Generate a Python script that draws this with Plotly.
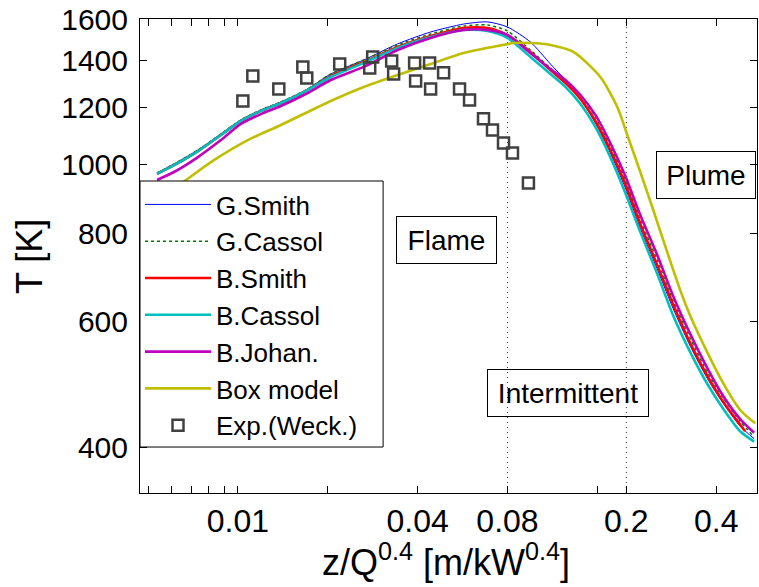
import math
import plotly.graph_objects as go

# Scaled height z/Q^0.4 [m/kW^0.4] sampled along the centreline profiles
z_cfd = [0.00536, 0.0062, 0.00735, 0.00877, 0.01023, 0.01194, 0.01393, 0.01688,
         0.02047, 0.02639, 0.03428, 0.04421, 0.0570, 0.06858, 0.07998, 0.09548,
         0.1114, 0.1250, 0.1404, 0.1575, 0.1768, 0.1985, 0.2227, 0.2539,
         0.2872, 0.3274, 0.3732, 0.4221, 0.4813, 0.5360]
z_bsmith = z_cfd[:-1] + [0.5001]

# Centreline temperature [K]
t_gsmith = [972, 1004, 1047, 1103, 1154, 1192, 1223, 1271, 1339, 1401, 1476, 1534,
            1574, 1585, 1559, 1485, 1383, 1313, 1235, 1143, 1037, 926, 813, 712,
            626, 555, 500, 461, 428, 411]
t_gcassol = [972, 1004, 1047, 1103, 1154, 1192, 1223, 1271, 1339, 1401, 1471, 1524,
             1564, 1569, 1539, 1447, 1365, 1313, 1247, 1165, 1060, 950, 835, 733,
             642, 569, 510, 469, 435, 413]
t_bsmith = [969, 1000, 1043, 1099, 1150, 1188, 1219, 1267, 1330, 1392, 1461, 1514,
            1554, 1554, 1519, 1438, 1356, 1301, 1235, 1150, 1047, 938, 824, 721,
            634, 560, 504, 463, 430, 421]
t_bcassol = [969, 1000, 1043, 1099, 1150, 1188, 1219, 1267, 1326, 1388, 1457, 1509,
             1544, 1539, 1505, 1415, 1339, 1284, 1215, 1128, 1023, 911, 803, 701,
             612, 544, 491, 453, 421, 407]
t_bjohan = [950, 978, 1023, 1081, 1139, 1176, 1207, 1255, 1313, 1370, 1447, 1505,
            1544, 1544, 1519, 1433, 1361, 1313, 1251, 1173, 1071, 962, 848, 745,
            652, 577, 517, 472, 438, 419]

# Box model profile
z_box = [0.00536, 0.0067, 0.00831, 0.0108, 0.01393, 0.02047, 0.02639, 0.03428,
         0.04421, 0.0570, 0.07406, 0.08378, 0.09548, 0.1114, 0.1330, 0.1637,
         0.1866, 0.2015, 0.2227, 0.2462, 0.2742, 0.3031, 0.3274, 0.3732,
         0.4221, 0.4813, 0.5401]
t_box = [890, 950, 1013, 1081, 1135, 1227, 1284, 1335, 1383, 1433, 1466, 1480,
         1480, 1471, 1438, 1326, 1203, 1099, 975, 862, 752, 665, 612, 544,
         492, 451, 432]

# Measurements (Weckman)
z_exp = [0.01039, 0.01122, 0.01371, 0.01650, 0.01701, 0.02193, 0.02764, 0.02828,
         0.03274, 0.03324, 0.03908, 0.03938, 0.04386, 0.04421, 0.04887, 0.05526,
         0.05969, 0.06648, 0.07125, 0.07757, 0.08313, 0.09401]
t_exp = [1227, 1330, 1275, 1370, 1322, 1383, 1365, 1415, 1396, 1339, 1388, 1309,
         1388, 1275, 1344, 1275, 1231, 1158, 1117, 1071, 1037, 941]

# Regime boundaries and labels
regime_bounds = [0.08, 0.2]
regime_labels = ["Flame", "Intermittent", "Plume"]
regime_label_z = [0.05, 0.1275, 0.369]
regime_label_t = [781, 476, 966]
regime_label_w = [97, 158, 96]

# Axis limits and ticks
z_lim = [0.0047, 0.548]
t_lim = [344.7, 1600]
x_tickvals = [0.01, 0.04, 0.08, 0.2, 0.4]
x_ticktext = ["0.01", "0.04", "0.08", "0.2", "0.4"]
x_minor_ticks = [0.005, 0.006, 0.007, 0.008, 0.009, 0.02, 0.16]
y_tickvals = [400, 600, 800, 1000, 1200, 1400, 1600]

FONT = "Liberation Sans, Arial, Helvetica, sans-serif"

# Legend frame (paper fractions of the plot area)
LEG_X1 = 0.394
LEG_Y0 = 0.097
LEG_Y1 = 0.6582

fig = go.Figure()

for zb in regime_bounds:
    fig.add_trace(go.Scatter(
        x=[zb, zb], y=t_lim, mode="lines", showlegend=False, hoverinfo="skip",
        line=dict(color="#333333", width=1, dash="1px,4px")))

series = [
    ("G.Smith", z_cfd, t_gsmith, dict(color="#0000FF", width=1)),
    ("G.Cassol", z_cfd, t_gcassol, dict(color="#008000", width=1.5, dash="dot")),
    ("B.Smith", z_bsmith, t_bsmith, dict(color="#FF0000", width=2.6)),
    ("B.Cassol", z_cfd, t_bcassol, dict(color="#00BFBF", width=2.6)),
    ("B.Johan.", z_cfd, t_bjohan, dict(color="#BF00BF", width=2.6)),
    ("Box model", z_box, t_box, dict(color="#BFBF00", width=2.6)),
]
for name, zx, ty, ln in series:
    ln = dict(ln, shape="spline", smoothing=0.7)
    fig.add_trace(go.Scatter(x=zx, y=ty, mode="lines", name=name, line=ln))

fig.add_trace(go.Scatter(
    x=z_exp, y=t_exp, mode="markers", name="Exp.(Weck.)",
    marker=dict(symbol="square-open", size=11, color="#404040",
                line=dict(width=2.5, color="#404040"))))

# Opaque legend panel drawn over the curves
fig.add_shape(
    type="rect", xref="paper", yref="paper", x0=0, x1=LEG_X1, y0=LEG_Y0, y1=LEG_Y1,
    fillcolor="white", line=dict(color="black", width=1), layer="above")

for txt, zx, ty, w in zip(regime_labels, regime_label_z, regime_label_t, regime_label_w):
    fig.add_annotation(
        x=math.log10(zx), y=math.log10(ty), xref="x", yref="y", text=txt,
        showarrow=False, font=dict(family=FONT, size=28, color="black"),
        bordercolor="black", borderwidth=1, borderpad=1, width=w, height=44,
        align="center", valign="middle")

# Axis titles
fig.add_annotation(
    x=0.496, y=-0.142, xref="paper", yref="paper",
    text="z/Q<sup>0.4</sup> [m/kW<sup>0.4</sup>]", showarrow=False,
    font=dict(family=FONT, size=36, color="black"), xanchor="center", yanchor="middle")
fig.add_annotation(
    x=-0.178, y=0.498, xref="paper", yref="paper", text="T [K]", textangle=-90,
    showarrow=False, font=dict(family=FONT, size=36, color="black"),
    xanchor="center", yanchor="middle")

axis_common = dict(
    showline=True, linecolor="black", linewidth=1, mirror="ticks",
    ticks="inside", ticklen=7, tickwidth=1, tickcolor="black",
    showgrid=False, zeroline=False)

fig.update_xaxes(
    type="log", range=[math.log10(z_lim[0]), math.log10(z_lim[1])],
    tickvals=x_tickvals, ticktext=x_ticktext,
    minor=dict(tickvals=x_minor_ticks, ticks="inside", ticklen=7, tickwidth=1,
               tickcolor="black", showgrid=False),
    tickfont=dict(family=FONT, size=32, color="black"), ticklabelstandoff=0,
    **axis_common)
fig.update_yaxes(
    type="log", range=[math.log10(t_lim[0]), math.log10(t_lim[1])],
    tickvals=y_tickvals, ticktext=[str(v) for v in y_tickvals],
    tickfont=dict(family=FONT, size=30, color="black"), ticklabelstandoff=5,
    **axis_common)

fig.update_layout(
    width=759, height=587,
    margin=dict(l=140, r=2, t=19, b=94),
    paper_bgcolor="white", plot_bgcolor="white",
    font=dict(family=FONT, color="black"),
    showlegend=True,
    legend=dict(
        x=0, y=LEG_Y1, xanchor="left", yanchor="top",
        bgcolor="rgba(0,0,0,0)", borderwidth=0,
        font=dict(family=FONT, size=26, color="black"),
        itemwidth=66, tracegroupgap=0),
)

fig.write_html("out.html")
